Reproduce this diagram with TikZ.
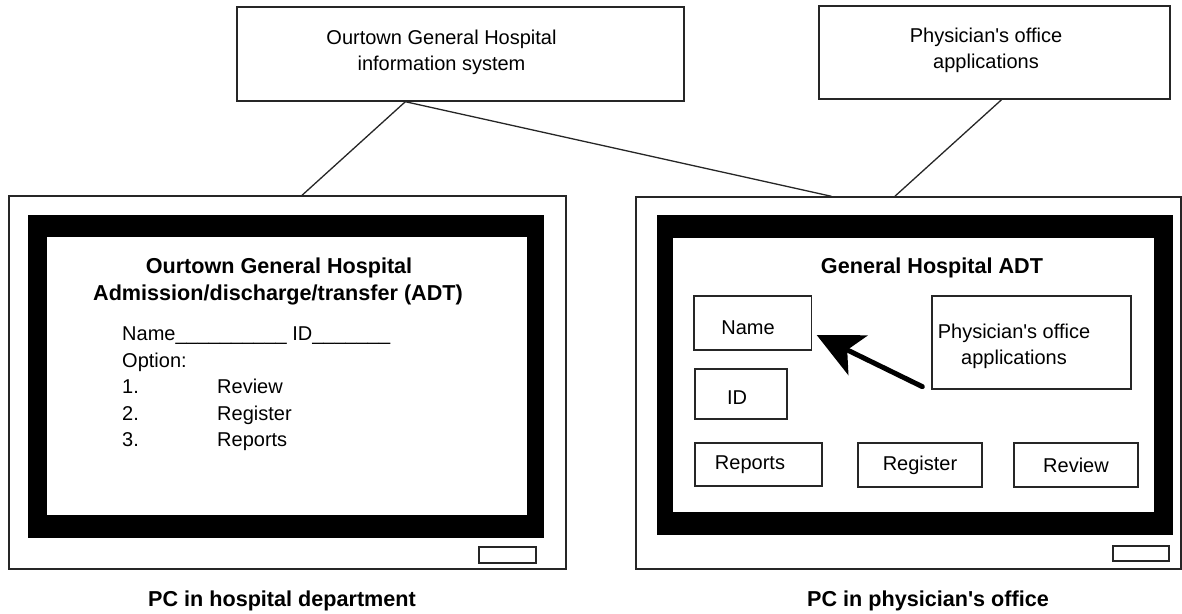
\documentclass[tikz,border=0pt]{standalone}
\usepackage{fontspec}
\setmainfont{Liberation Sans}
\usetikzlibrary{arrows.meta,calc}
\begin{document}
\begin{tikzpicture}[x=1pt,y=-1pt,
  frame/.style={draw=black!85, line width=1.4pt, fill=white, inner sep=0pt},
  boxed/.style={draw=black!85, line width=1.3pt, fill=white, inner sep=0pt, font=\fontsize{20}{26}\selectfont},
  txt/.style={inner sep=0pt, font=\fontsize{20}{26}\selectfont},
  ctxt/.style={inner sep=0pt, font=\fontsize{20}{26}\selectfont, align=center},
  btxt/.style={inner sep=0pt, font=\fontsize{21.6}{28}\selectfont\bfseries},
  conn/.style={draw=black!85, line width=1.3pt},
  bezel/.style={fill=black, inner sep=0pt},
  glass/.style={fill=white, inner sep=0pt},
  pointer/.style={line width=5pt, line cap=round, -{Stealth[length=46pt,width=44pt,inset=12pt]}}]
\useasboundingbox (0,0) rectangle (1182,613);

% top boxes
\node[frame, minimum width=447pt, minimum height=94pt,
  label={[ctxt, xshift=-19pt, yshift=2pt]center:Ourtown General Hospital\\information system}] (his) at (460.5,54) {};
\node[frame, minimum width=351pt, minimum height=93pt,
  label={[ctxt, xshift=-8.5pt, yshift=2.5pt]center:Physician\textquotesingle s office\\applications}] (poa) at (994.5,52.5) {};

% left PC
\node[frame, minimum width=557pt, minimum height=373pt] (pcl) at (287.5,382.5) {};
\node[bezel, minimum width=516pt, minimum height=323pt] (bezl) at (286,376.5) {};
\node[glass, minimum width=480pt, minimum height=278pt] (scrl) at (287,376) {};
\node[frame, line width=1.2pt, minimum width=57pt, minimum height=16pt] (btnl) at (507.5,555) {};

% right PC
\node[frame, minimum width=545pt, minimum height=372pt] (pcr) at (908.5,383) {};
\node[bezel, minimum width=516pt, minimum height=320pt] (bezr) at (915,375) {};
\node[glass, minimum width=481pt, minimum height=274pt] (scrr) at (913.5,375) {};
\node[frame, line width=1.2pt, minimum width=56pt, minimum height=15pt] (btnr) at (1141,553.5) {};

% connectors
\draw[conn] ($(his.south west)!0.377!(his.south east)$) -- ($(pcl.north west)!0.526!(pcl.north east)$);
\draw[conn] ($(his.south west)!0.377!(his.south east)$) -- ($(pcr.north west)!0.359!(pcr.north east)$);
\draw[conn] ($(poa.south west)!0.52!(poa.south east)$) -- ($(pcr.north west)!0.475!(pcr.north east)$);

% left screen text
\node[btxt, anchor=base] (lt1) at (279,273) {Ourtown General Hospital};
\node[btxt, anchor=base] (lt2) at (278,300.5) {Admission/discharge/transfer (ADT)};
\node[txt, anchor=base west] (lname) at (122,340.5) {Name\_\_\_\_\_\_\_\_\_\_ ID\_\_\_\_\_\_\_};
\node[txt, anchor=base west] (lopt) at (122,367) {Option:};
\node[txt, anchor=base west] (ln1) at (122,393.5) {1.};
\node[txt, anchor=base west] (ln2) at (122,420) {2.};
\node[txt, anchor=base west] (ln3) at (122,446.5) {3.};
\node[txt, anchor=base west] (lrev) at (217,393.5) {Review};
\node[txt, anchor=base west] (lreg) at (217,420) {Register};
\node[txt, anchor=base west] (lrep) at (217,446.5) {Reports};

% right screen
\node[btxt, anchor=base] (rt) at (932,273) {General Hospital ADT};
\node[boxed, minimum width=117.5pt, minimum height=54pt,
  label={[txt, xshift=-4.75pt, yshift=-5pt]center:Name}] (nameb) at (752.75,323) {};
\node[boxed, minimum width=92pt, minimum height=50pt,
  label={[txt, xshift=-4pt, yshift=-4pt]center:ID}] (idb) at (741,394) {};
\node[boxed, minimum width=127pt, minimum height=43pt,
  label={[txt, xshift=-8.5pt]center:Reports}] (repb) at (758.5,464.5) {};
\node[boxed, minimum width=124pt, minimum height=44pt] (regb) at (920,465) {Register};
\node[boxed, minimum width=124pt, minimum height=44pt] (revb) at (1076,465) {Review};
\node[boxed, minimum width=199pt, minimum height=93pt,
  label={[ctxt, xshift=-17.5pt, yshift=-3.8pt]center:Physician\textquotesingle s office\\applications}] (office) at (1031.5,342.5) {};

\coordinate (atail) at ($(office.south west)+(-9,-3)$);
\coordinate (atip) at ($(nameb.east)+(4.5,12)$);
\draw[pointer] (atail) -- (atip);

% captions
\node[btxt, anchor=base] (capl) at (282,606) {PC in hospital department};
\node[btxt, anchor=base] (capr) at (928,606) {PC in physician\textquotesingle s office};
\end{tikzpicture}
\end{document}
